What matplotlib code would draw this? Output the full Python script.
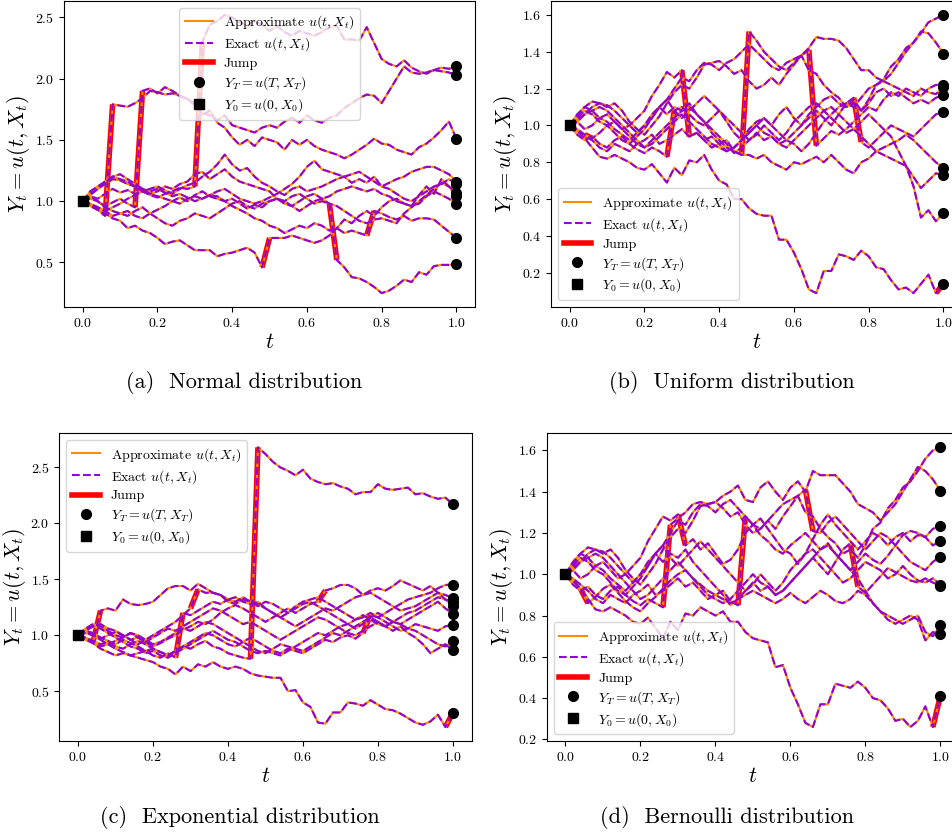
import numpy as np
import matplotlib
matplotlib.use("Agg")
import matplotlib.pyplot as plt
from matplotlib.lines import Line2D

plt.rcParams['font.family'] = 'serif'
plt.rcParams['font.serif'] = ['cmr10']
plt.rcParams['mathtext.fontset'] = 'cm'
plt.rcParams['axes.formatter.use_mathtext'] = True

# time grid, 50 steps
t = np.round(np.arange(51) * 0.02, 2)

# ---------- (a) Normal distribution ----------
a_top = [1.00, 1.04, 1.02, 1.06, 1.10, 1.07, 1.09, 1.06, 1.08, 1.05, 1.03, 1.06, 1.08, 1.11, 1.10, 1.12,
         2.30, 2.44, 2.47, 2.52, 2.50, 2.46, 2.43, 2.47, 2.44, 2.39, 2.43, 2.38, 2.35, 2.39, 2.37, 2.35,
         2.38, 2.42, 2.43, 2.32, 2.32, 2.31, 2.42, 2.29, 2.16, 2.12, 2.10, 2.15, 2.09, 2.06, 2.04, 2.07,
         2.09, 2.08, 2.10]
a_j1 = [1.00, 0.97, 0.93, 0.88,
        1.79, 1.78, 1.77, 1.80, 1.84, 1.90, 1.89, 1.87, 1.88, 1.86, 1.84, 1.78, 1.72, 1.70, 1.66, 1.70,
        1.62, 1.60, 1.58, 1.56, 1.60, 1.62, 1.60, 1.65, 1.68, 1.64, 1.70, 1.66, 1.64, 1.68, 1.70, 1.76,
        1.80, 1.84, 1.87, 1.86, 1.80, 1.90, 2.00, 2.10, 2.05, 2.04, 2.05, 2.07, 2.06, 2.05, 2.03]
a_j2 = [1.00, 1.04, 1.00, 0.96, 0.99, 1.02, 0.98, 0.95,
        1.90, 1.92, 1.88, 1.93, 1.90, 1.86, 1.83, 1.80, 1.70, 1.74, 1.64, 1.60, 1.52, 1.46, 1.50, 1.45,
        1.52, 1.50, 1.48, 1.42, 1.50, 1.46, 1.50, 1.45, 1.42, 1.40, 1.38, 1.35, 1.38, 1.42, 1.46, 1.51,
        1.47, 1.46, 1.42, 1.40, 1.38, 1.44, 1.47, 1.52, 1.58, 1.65, 1.51]
a_j5 = [1.00, 1.06, 1.10, 1.14, 1.18, 1.17, 1.14, 1.12, 1.10, 1.08, 1.10, 1.07, 1.04, 1.06, 1.03, 1.00,
        1.02, 1.05, 1.04, 1.00, 1.02, 0.98, 0.94, 0.97, 0.95, 1.00, 1.02, 1.00, 1.04, 1.06, 1.02, 0.98,
        1.00, 0.98,
        0.52, 0.46, 0.38, 0.37, 0.34, 0.30, 0.25, 0.27, 0.31, 0.36, 0.34, 0.42, 0.40, 0.47, 0.48, 0.48, 0.49]
a_j4 = [1.00, 0.96, 0.93, 0.90, 0.86, 0.84, 0.78, 0.80, 0.76, 0.74, 0.70, 0.65, 0.67, 0.68, 0.64, 0.60,
        0.60, 0.60, 0.55, 0.57, 0.58, 0.60, 0.62, 0.58, 0.46,
        0.70, 0.70, 0.70, 0.72, 0.70, 0.68, 0.66, 0.68, 0.72, 0.78, 0.85, 0.82, 0.88, 0.92, 0.88, 0.95,
        1.00, 1.02, 0.98, 0.96, 1.05, 1.12, 1.06, 1.18, 1.12, 1.04]
a_j6 = [1.00, 0.97, 0.95, 0.92, 0.88, 0.90, 0.92, 0.88, 0.86, 0.90, 0.93, 0.96, 1.00, 1.03, 1.00, 1.05,
        1.08, 1.04, 1.02, 1.00, 0.96, 0.93, 0.90, 0.86, 0.84, 0.80, 0.78, 0.74, 0.77, 0.80, 0.78, 0.82,
        0.80, 0.76, 0.78, 0.74, 0.76, 0.74, 0.72,
        0.92, 0.90, 0.87, 0.85, 0.88, 0.84, 0.86, 0.86, 0.85, 0.80, 0.75, 0.70]
a_p1 = [1.00, 1.05, 1.10, 1.16, 1.20, 1.18, 1.16, 1.12, 1.08, 1.10, 1.12, 1.09, 1.06, 1.10, 1.13, 1.15,
        1.20, 1.24, 1.30, 1.38, 1.30, 1.25, 1.27, 1.20, 1.15, 1.12, 1.08, 1.05, 1.10, 1.12, 1.08, 1.10,
        1.12, 1.15, 1.18, 1.20, 1.15, 1.18, 1.15, 1.20, 1.12, 1.15, 1.18, 1.20, 1.24, 1.26, 1.28, 1.28,
        1.25, 1.22, 1.16]
a_p2 = [1.00, 0.98, 0.95, 0.92, 0.95, 0.98, 1.02, 1.05, 1.08, 1.06, 1.04, 1.02, 1.00, 0.98, 1.02, 1.04,
        1.02, 1.05, 1.08, 1.10, 1.06, 1.02, 1.00, 0.98, 1.00, 1.03, 1.06, 1.10, 1.14, 1.20, 1.28, 1.33,
        1.26, 1.24, 1.22, 1.20, 1.22, 1.24, 1.20, 1.16, 1.12, 1.10, 1.06, 1.02, 1.00, 1.04, 1.08, 1.12,
        1.14, 1.18, 1.14]
a_p3 = [1.00, 1.02, 1.00, 0.95, 0.92, 0.90, 0.88, 0.92, 0.95, 0.90, 0.86, 0.82, 0.80, 0.84, 0.86, 0.90,
        0.88, 0.86, 0.90, 0.94, 0.98, 1.00, 0.96, 0.94, 0.98, 1.00, 1.02, 0.98, 0.96, 1.00, 1.04, 1.06,
        1.02, 0.98, 0.96, 0.92, 0.88, 0.84, 0.82, 0.85, 0.86, 0.84, 0.82, 0.90, 0.95, 1.00, 1.05, 1.10,
        1.15, 1.12, 1.07]
a_p4 = [1.00, 1.08, 1.12, 1.16, 1.20, 1.22, 1.18, 1.14, 1.10, 1.06, 1.08, 1.12, 1.10, 1.14, 1.16, 1.22,
        1.24, 1.18, 1.22, 1.26, 1.20, 1.16, 1.14, 1.12, 1.10, 1.08, 1.02, 1.00, 0.96, 0.92, 0.96, 1.00,
        1.02, 1.04, 1.08, 1.10, 1.12, 1.10, 1.08, 1.10, 1.06, 1.04, 1.00, 0.98, 0.96, 0.98, 1.04, 1.08,
        1.05, 1.02, 0.98]
paths_a = [a_top, a_j1, a_j2, a_j5, a_j4, a_j6, a_p1, a_p2, a_p3, a_p4]
jump_path_a = [0, 1, 2, 3, 4, 5]
jump_step_a = [15, 3, 7, 33, 24, 38]

# ---------- (b) Uniform distribution ----------
b_bot = [1.00, 0.97, 0.93, 0.88, 0.83, 0.82, 0.84, 0.82, 0.80, 0.77, 0.76, 0.79, 0.74, 0.69, 0.77, 0.73,
         0.81, 0.80, 0.84, 0.76, 0.70, 0.68, 0.60, 0.60, 0.55, 0.52, 0.51, 0.51, 0.38, 0.38, 0.31, 0.22,
         0.11, 0.09, 0.21, 0.21, 0.30, 0.29, 0.27, 0.32, 0.29, 0.23, 0.22, 0.16, 0.11, 0.12, 0.09, 0.14,
         0.19, 0.09, 0.14]
b_160 = [1.00, 1.05, 1.10, 1.13, 1.12, 1.10, 1.12, 1.08, 1.02, 0.98, 0.95, 1.00, 1.05, 1.12, 1.18, 1.22,
         1.20, 1.26, 1.33, 1.34, 1.35, 1.32, 1.28, 1.30, 1.24, 1.20, 1.22, 1.26, 1.22, 1.28, 1.33, 1.38,
         1.30, 1.28, 1.22, 1.18, 1.15, 1.10, 1.12, 1.08, 1.14, 1.22, 1.25, 1.32, 1.36, 1.42, 1.45, 1.50,
         1.56, 1.58, 1.60]
b_139 = [1.00, 0.98, 0.95, 0.92, 0.88, 0.86, 0.90, 0.88, 0.86, 0.90, 0.92, 0.95, 0.90, 0.92, 0.95, 0.98,
         0.94, 0.96, 0.92, 0.88, 0.90, 0.92, 0.86, 0.84, 1.51, 1.46, 1.40, 1.36, 1.32, 1.30, 1.34, 1.38,
         1.42, 1.48, 1.47, 1.47, 1.46, 1.42, 1.36, 1.30, 1.30, 1.26, 1.24, 1.28, 1.34, 1.40, 1.45, 1.51,
         1.50, 1.45, 1.39]
b_122 = [1.00, 1.04, 1.08, 1.06, 1.02, 1.00, 0.96, 0.92, 0.90, 0.94, 0.98, 1.04, 1.10, 1.14, 1.20, 1.26,
         1.24, 1.30, 1.34, 1.33, 1.30, 1.34, 1.36, 1.40, 1.44, 1.40, 1.36, 1.32, 1.30, 1.34, 1.36, 1.38,
         1.41, 0.89, 0.93, 0.97, 0.95, 0.98, 1.02, 1.06, 1.10, 1.08, 1.14, 1.18, 1.16, 1.20, 1.18, 1.16,
         1.20, 1.22, 1.22]
b_121 = [1.00, 1.06, 1.10, 1.08, 1.04, 1.06, 1.02, 0.98, 1.00, 1.04, 1.08, 1.16, 1.22, 1.29, 1.26, 1.30,
         0.94, 0.96, 0.92, 0.94, 0.90, 0.86, 0.88, 0.92, 0.98, 1.02, 1.04, 1.00, 0.96, 0.92, 0.90, 0.86,
         0.90, 0.96, 1.02, 1.06, 1.10, 1.12, 1.10, 1.15, 1.20, 1.22, 1.24, 1.22, 1.20, 1.18, 1.16, 1.20,
         1.18, 1.17, 1.21]
b_1165 = [1.00, 0.95, 0.92, 0.94, 0.90, 0.88, 0.92, 0.94, 0.90, 0.87, 0.85, 0.88, 0.86, 0.83, 1.08, 1.10,
          1.06, 1.02, 1.00, 1.04, 1.08, 1.02, 0.96, 0.92, 0.96, 1.00, 1.04, 1.00, 1.06, 1.10, 1.04, 1.00,
          1.06, 1.10, 1.14, 1.16, 1.12, 1.10, 1.14, 1.08, 1.12, 1.18, 1.20, 1.16, 1.18, 1.15, 1.12, 1.14,
          1.12, 1.15, 1.165]
b_1075 = [1.00, 1.02, 0.98, 1.00, 1.04, 1.02, 0.98, 0.95, 0.92, 0.96, 1.00, 1.04, 1.10, 1.06, 1.10, 1.08,
          1.12, 1.06, 1.02, 0.98, 0.94, 0.90, 0.85, 0.88, 0.92, 0.96, 0.92, 0.94, 0.90, 0.92, 0.96, 1.00,
          1.04, 1.08, 1.04, 1.00, 1.06, 1.12, 1.15, 0.91, 0.88, 0.92, 0.96, 1.00, 0.98, 0.96, 0.94, 0.98,
          1.02, 1.06, 1.075]
b_077 = [1.00, 0.97, 0.95, 0.93, 0.96, 1.00, 1.02, 0.98, 0.94, 0.90, 0.88, 0.92, 0.96, 1.00, 1.04, 1.08,
         1.10, 1.06, 1.02, 0.96, 0.92, 0.88, 0.86, 0.84, 0.84, 0.82, 0.84, 0.80, 0.78, 0.76, 0.80, 0.79,
         0.81, 0.83, 0.80, 0.84, 0.80, 0.76, 0.74, 0.80, 0.82, 0.86, 0.88, 0.90, 0.92, 0.95, 0.92, 0.88,
         0.84, 0.80, 0.77]
b_073 = [1.00, 1.03, 1.06, 1.08, 1.10, 1.08, 1.04, 1.00, 0.96, 0.92, 0.88, 0.90, 0.94, 0.98, 1.02, 1.06,
         1.02, 0.98, 0.94, 0.90, 0.88, 0.86, 0.88, 0.92, 0.96, 1.00, 0.96, 0.94, 0.90, 0.88, 0.92, 0.96,
         1.00, 1.04, 1.08, 1.10, 1.06, 1.02, 0.98, 0.94, 0.90, 0.86, 0.84, 0.82, 0.80, 0.78, 0.72, 0.66,
         0.70, 0.74, 0.73]
b_0525 = [1.00, 1.02, 1.06, 1.10, 1.12, 1.11, 1.08, 1.04, 1.00, 0.96, 1.00, 1.06, 1.10, 1.14, 1.08, 1.04,
          1.08, 1.12, 1.16, 1.12, 1.08, 1.04, 1.00, 0.96, 0.92, 0.95, 1.00, 0.96, 0.92, 0.96, 1.02, 1.06,
          1.10, 1.12, 1.08, 1.04, 1.00, 0.96, 0.98, 1.02, 1.06, 1.02, 0.98, 0.94, 0.86, 0.78, 0.67, 0.50,
          0.54, 0.48, 0.525]
paths_b = [b_bot, b_160, b_139, b_122, b_121, b_1165, b_1075, b_077, b_073, b_0525]
jump_path_b = [7, 5, 4, 2, 3, 6, 0]
jump_step_b = [2, 13, 15, 23, 32, 38, 49]

# ---------- (c) Exponential distribution ----------
c_top = [1.00, 1.04, 1.02, 0.98, 0.95, 0.92, 0.96, 0.93, 0.90, 0.86, 0.88, 0.85, 0.82, 0.86, 0.90, 0.88,
         0.92, 0.95, 0.90, 0.88, 0.84, 0.82, 0.80, 0.79,
         2.68, 2.62, 2.55, 2.50, 2.47, 2.43, 2.48, 2.40, 2.37, 2.35, 2.36, 2.33, 2.31, 2.26, 2.28, 2.28,
         2.35, 2.31, 2.30, 2.31, 2.32, 2.26, 2.27, 2.24, 2.22, 2.23, 2.17]
c_bot = [1.00, 0.97, 0.93, 0.88, 0.85, 0.82, 0.84, 0.82, 0.80, 0.78, 0.76, 0.72, 0.70, 0.65, 0.72, 0.68,
         0.74, 0.72, 0.76, 0.72, 0.70, 0.72, 0.70, 0.66, 0.64, 0.63, 0.62, 0.62, 0.50, 0.51, 0.40, 0.36,
         0.22, 0.21, 0.31, 0.31, 0.40, 0.39, 0.37, 0.42, 0.38, 0.34, 0.33, 0.30, 0.26, 0.22, 0.20, 0.23,
         0.29, 0.18, 0.306]
c_j2 = [1.00, 0.97, 0.94,
        1.22, 1.24, 1.22, 1.32, 1.28, 1.27, 1.28, 1.30, 1.36, 1.42, 1.44, 1.44, 1.40, 1.46, 1.42, 1.38,
        1.36, 1.32, 1.34, 1.30, 1.28, 1.30, 1.24, 1.20, 1.16, 1.12, 1.08, 1.12, 1.16, 1.20, 1.24, 1.22,
        1.26, 1.30, 1.34, 1.36, 1.38, 1.34, 1.30, 1.26, 1.22, 1.24, 1.26, 1.30, 1.34, 1.38, 1.36, 1.333]
c_j32 = [1.00, 1.04, 1.08, 1.10, 1.06, 1.04, 1.00, 0.96, 0.98, 0.94, 0.90, 0.93, 0.97, 1.00, 1.05, 1.08,
         1.12, 1.10, 1.14, 1.20, 1.24, 1.27, 1.24, 1.20, 1.16, 1.12, 1.16, 1.20, 1.24, 1.20, 1.24, 1.28,
         1.30,
         1.40, 1.42, 1.45, 1.45, 1.42, 1.36, 1.40, 1.42, 1.40, 1.44, 1.49, 1.46, 1.43, 1.40, 1.44, 1.38,
         1.32, 1.262]
c_j13 = [1.00, 0.96, 0.93, 0.90, 0.92, 0.88, 0.85, 0.82, 0.84, 0.86, 0.82, 0.80, 0.84, 0.80,
         1.20, 1.18, 1.22, 1.26, 1.30, 1.28, 1.32, 1.30, 1.34, 1.30, 1.26, 1.30, 1.28, 1.24, 1.20, 1.24,
         1.28, 1.30, 1.26, 1.22, 1.18, 1.14, 1.10, 1.06, 1.10, 1.16, 1.20, 1.16, 1.12, 1.10, 1.14, 1.18,
         1.22, 1.26, 1.30, 1.24, 1.194]
c_j15 = [1.00, 1.03, 1.00, 0.97, 1.00, 1.03, 1.00, 0.96, 0.92, 0.96, 1.00, 1.04, 1.08, 1.12, 1.18, 1.24,
         1.41, 1.38, 1.38, 1.36, 1.30, 1.28, 1.32, 1.30, 1.28, 1.24, 1.20, 1.16, 1.20, 1.26, 1.30, 1.32,
         1.34, 1.30, 1.26, 1.22, 1.18, 1.14, 1.16, 1.20, 1.16, 1.20, 1.24, 1.28, 1.32, 1.34, 1.36, 1.38,
         1.42, 1.45, 1.453]
c_j38 = [1.00, 0.98, 0.95, 0.92, 0.94, 0.90, 0.88, 0.92, 0.95, 0.92, 0.88, 0.85, 0.82, 0.86, 0.90, 0.94,
         0.98, 1.02, 1.00, 0.96, 0.92, 0.90, 0.94, 0.98, 0.94, 0.90, 0.86, 0.84, 0.88, 0.86, 0.84, 0.88,
         0.92, 0.96, 0.94, 0.98, 1.00, 0.97, 1.02,
         1.18, 1.16, 1.12, 1.08, 1.04, 1.06, 1.10, 1.08, 1.06, 1.04, 1.08, 1.094]
c_095 = [1.00, 1.05, 1.08, 1.06, 1.02, 0.98, 0.94, 0.90, 0.88, 0.84, 0.86, 0.82, 0.80, 0.84, 0.88, 0.92,
         0.96, 1.00, 1.04, 1.00, 0.96, 0.94, 0.90, 0.86, 0.84, 0.86, 0.84, 0.82, 0.86, 0.90, 0.94, 0.98,
         1.02, 1.00, 1.04, 1.08, 1.10, 1.14, 1.18, 1.14, 1.10, 1.08, 1.12, 1.10, 1.06, 1.04, 1.00, 0.96,
         0.92, 0.90, 0.95]
c_0866 = [1.00, 1.02, 1.00, 0.96, 0.92, 0.95, 0.98, 1.02, 1.00, 0.96, 0.92, 0.94, 0.98, 1.02, 1.06, 1.04,
          1.08, 1.12, 1.10, 1.06, 1.02, 0.98, 0.94, 0.90, 0.86, 0.84, 0.88, 0.92, 0.90, 0.88, 0.86, 0.90,
          0.94, 0.98, 1.02, 1.00, 1.04, 1.08, 1.12, 1.16, 1.12, 1.08, 1.04, 1.08, 1.02, 0.98, 0.92, 0.84,
          0.88, 0.92, 0.866]
c_130 = [1.00, 1.06, 1.10, 1.08, 1.04, 1.00, 0.98, 1.02, 0.98, 0.94, 0.98, 1.02, 1.06, 1.04, 1.08, 1.12,
         1.16, 1.20, 1.24, 1.22, 1.18, 1.14, 1.10, 1.12, 1.08, 1.04, 1.00, 0.96, 1.00, 1.04, 1.08, 1.12,
         1.16, 1.14, 1.10, 1.06, 1.02, 1.00, 1.04, 1.08, 1.12, 1.08, 1.12, 1.16, 1.20, 1.22, 1.26, 1.30,
         1.34, 1.32, 1.30]
paths_c = [c_top, c_bot, c_j2, c_j32, c_j13, c_j15, c_j38, c_095, c_0866, c_130]
jump_path_c = [2, 4, 5, 0, 3, 6, 1]
jump_step_c = [2, 13, 15, 23, 32, 38, 49]

# ---------- (d) Bernoulli distribution ----------
d_bot = [1.00, 0.97, 0.93, 0.88, 0.83, 0.82, 0.84, 0.82, 0.80, 0.77, 0.76, 0.79, 0.74, 0.69, 0.77, 0.73,
         0.81, 0.80, 0.84, 0.82, 0.80, 0.82, 0.77, 0.77, 0.72, 0.69, 0.68, 0.67, 0.55, 0.56, 0.45, 0.37,
         0.28, 0.26, 0.37, 0.37, 0.47, 0.46, 0.45, 0.48, 0.45, 0.40, 0.39, 0.35, 0.29, 0.30, 0.26, 0.29,
         0.36, 0.26, 0.41]
d_161 = [1.00, 1.05, 1.10, 1.13, 1.12, 1.10, 1.12, 1.08, 1.02, 0.98, 0.95, 1.00, 1.05, 1.12, 1.18, 1.22,
         1.20, 1.26, 1.33, 1.34, 1.35, 1.32, 1.28, 1.30, 1.24, 1.20, 1.22, 1.26, 1.22, 1.28, 1.33, 1.38,
         1.30, 1.28, 1.22, 1.18, 1.15, 1.10, 1.12, 1.08, 1.14, 1.22, 1.25, 1.32, 1.36, 1.42, 1.45, 1.50,
         1.56, 1.60, 1.615]
d_j13 = [1.00, 0.95, 0.92, 0.94, 0.90, 0.88, 0.92, 0.94, 0.90, 0.87, 0.85, 0.88, 0.86, 0.84,
         1.24, 1.27, 1.30, 1.34, 1.35, 1.34, 1.35, 1.38, 1.40, 1.43, 1.36, 1.35, 1.42, 1.45, 1.40, 1.36,
         1.42, 1.45, 1.40, 1.50, 1.48, 1.48, 1.48, 1.44, 1.40, 1.34, 1.32, 1.30, 1.26, 1.30, 1.34, 1.40,
         1.46, 1.52, 1.50, 1.46, 1.405]
d_j15 = [1.00, 1.06, 1.10, 1.08, 1.04, 1.06, 1.02, 0.98, 1.00, 1.04, 1.08, 1.16, 1.22, 1.28, 1.26, 1.29,
         1.14, 1.17, 1.12, 1.15, 1.10, 1.05, 1.07, 1.12, 1.20, 1.24, 1.27, 1.22, 1.17, 1.12, 1.10, 1.05,
         1.10, 1.17, 1.24, 1.29, 1.24, 1.20, 1.16, 1.12, 1.16, 1.20, 1.18, 1.14, 1.18, 1.20, 1.16, 1.19,
         1.18, 1.14, 1.16]
d_j23 = [1.00, 0.98, 0.95, 0.92, 0.88, 0.86, 0.90, 0.88, 0.86, 0.90, 0.92, 0.95, 0.90, 0.92, 0.95, 0.98,
         0.94, 0.96, 0.92, 0.88, 0.90, 0.92, 0.87, 0.85,
         1.28, 1.24, 1.19, 1.16, 1.12, 1.10, 1.14, 1.17, 1.20, 1.16, 1.12, 1.15, 1.10, 1.06, 1.02, 1.06,
         1.10, 1.07, 1.05, 1.09, 1.14, 1.19, 1.21, 1.20, 1.18, 1.22, 1.235]
d_j32 = [1.00, 1.04, 1.08, 1.06, 1.02, 1.00, 0.96, 0.92, 0.90, 0.94, 0.98, 1.04, 1.10, 1.14, 1.20, 1.26,
         1.24, 1.30, 1.34, 1.33, 1.30, 1.34, 1.36, 1.32, 1.28, 1.24, 1.22, 1.26, 1.30, 1.34, 1.36, 1.38,
         1.41,
         1.21, 1.20, 1.25, 1.28, 1.24, 1.20, 1.16, 1.12, 1.16, 1.20, 1.18, 1.14, 1.10, 1.06, 1.04, 1.02,
         1.06, 1.085]
d_j38 = [1.00, 1.02, 0.98, 1.00, 1.04, 1.02, 0.98, 0.95, 0.92, 0.96, 1.00, 1.04, 1.10, 1.06, 1.10, 1.08,
         1.12, 1.06, 1.02, 0.98, 0.94, 0.90, 0.85, 0.88, 0.92, 0.96, 0.92, 0.94, 0.90, 0.92, 0.96, 1.00,
         1.04, 1.08, 1.04, 1.00, 1.06, 1.12, 1.15,
         0.94, 0.91, 0.95, 0.99, 1.03, 1.01, 0.99, 0.97, 0.96, 0.98, 0.96, 0.945]
d_j2 = [1.00, 0.97, 0.93, 0.86, 0.89, 0.93, 0.95, 0.91, 0.87, 0.84, 0.82, 0.86, 0.89, 0.93, 0.97, 1.00,
        1.02, 0.98, 0.95, 0.92, 0.90, 0.88, 0.86, 0.88, 0.90, 0.92, 0.90, 0.88, 0.86, 0.88, 0.91, 0.88,
        0.86, 0.89, 0.92, 0.90, 0.87, 0.86, 0.88, 0.92, 0.90, 0.86, 0.82, 0.80, 0.78, 0.76, 0.78, 0.80,
        0.72, 0.70, 0.755]
d_071 = [1.00, 1.03, 1.06, 1.08, 1.10, 1.08, 1.04, 1.00, 0.96, 0.92, 0.88, 0.90, 0.94, 0.98, 1.02, 1.06,
         1.02, 0.98, 0.94, 0.90, 0.88, 0.86, 0.88, 0.92, 0.96, 1.00, 0.96, 0.94, 0.90, 0.92, 0.96, 1.00,
         1.04, 1.08, 1.12, 1.14, 1.10, 1.06, 1.02, 0.98, 0.92, 0.86, 0.82, 0.78, 0.76, 0.78, 0.80, 0.78,
         0.68, 0.72, 0.71]
d_095 = [1.00, 1.02, 1.06, 1.10, 1.12, 1.11, 1.08, 1.04, 1.00, 0.96, 1.00, 1.06, 1.10, 1.14, 1.08, 1.04,
         1.08, 1.12, 1.16, 1.12, 1.08, 1.04, 1.00, 0.96, 0.92, 0.95, 1.00, 0.96, 0.92, 0.96, 1.02, 1.06,
         1.10, 1.12, 1.08, 1.04, 1.00, 0.96, 0.98, 1.02, 1.06, 1.04, 1.02, 0.98, 1.00, 1.04, 1.00, 0.97,
         0.96, 0.98, 0.95]
paths_d = [d_bot, d_161, d_j13, d_j15, d_j23, d_j32, d_j38, d_j2, d_071, d_095]
jump_path_d = [7, 2, 3, 4, 5, 6, 0]
jump_step_d = [2, 13, 15, 23, 32, 38, 49]

captions = ['(a)  Normal distribution', '(b)  Uniform distribution',
            '(c)  Exponential distribution', '(d)  Bernoulli distribution']


def draw_panel(ax, paths, jump_path, jump_step, legend_loc):
    for y in paths:
        ax.plot(t, y, color='darkorange', lw=1.5, zorder=2)
        ax.plot(t, y, color='darkviolet', lw=1.5, ls='--', zorder=3)
    for k, i in zip(jump_path, jump_step):
        ax.plot(t[i:i + 2], paths[k][i:i + 2], color='red', lw=4, zorder=1,
                solid_capstyle='butt')
    ax.plot(np.ones(len(paths)), [p[-1] for p in paths], 'ko', ms=7, zorder=4)
    ax.plot([0.0], [paths[0][0]], 'ks', ms=7, zorder=4)

    ax.set_xlabel('$t$', fontsize=16, labelpad=2)
    ax.set_ylabel('$Y_t = u(t, X_t)$', fontsize=16, labelpad=2)
    ax.tick_params(labelsize=10)

    handles = [Line2D([], [], color='darkorange', lw=1.5),
               Line2D([], [], color='darkviolet', lw=1.5, ls='--'),
               Line2D([], [], color='red', lw=4),
               Line2D([], [], color='k', marker='o', ls='none', ms=7),
               Line2D([], [], color='k', marker='s', ls='none', ms=7)]
    labels = [r'Approximate $u(t, X_t)$', r'Exact $u(t, X_t)$', 'Jump',
              r'$Y_T = u(T, X_T)$', r'$Y_0 = u(0, X_0)$']
    ax.legend(handles, labels, loc=legend_loc, fontsize=10, labelspacing=0.3)


fig = plt.figure(figsize=(9.53, 8.34), dpi=100)

ax_a = fig.add_axes([0.0672, 0.6319, 0.4313, 0.3669])
ax_b = fig.add_axes([0.5782, 0.6319, 0.4313, 0.3669])
ax_c = fig.add_axes([0.0622, 0.1115, 0.4327, 0.3689])
ax_d = fig.add_axes([0.5737, 0.1115, 0.4327, 0.3689])

draw_panel(ax_a, paths_a, jump_path_a, jump_step_a, 'upper center')
draw_panel(ax_b, paths_b, jump_path_b, jump_step_b, 'lower left')
draw_panel(ax_c, paths_c, jump_path_c, jump_step_c, 'upper left')
draw_panel(ax_d, paths_d, jump_path_d, jump_step_d, 'lower left')

fig.text(0.256, 0.5408, captions[0], ha='center', va='center', fontsize=16)
fig.text(0.7676, 0.5408, captions[1], ha='center', va='center', fontsize=16)
fig.text(0.2518, 0.0192, captions[2], ha='center', va='center', fontsize=16)
fig.text(0.7629, 0.0192, captions[3], ha='center', va='center', fontsize=16)

fig.savefig('out.png', dpi=100)
